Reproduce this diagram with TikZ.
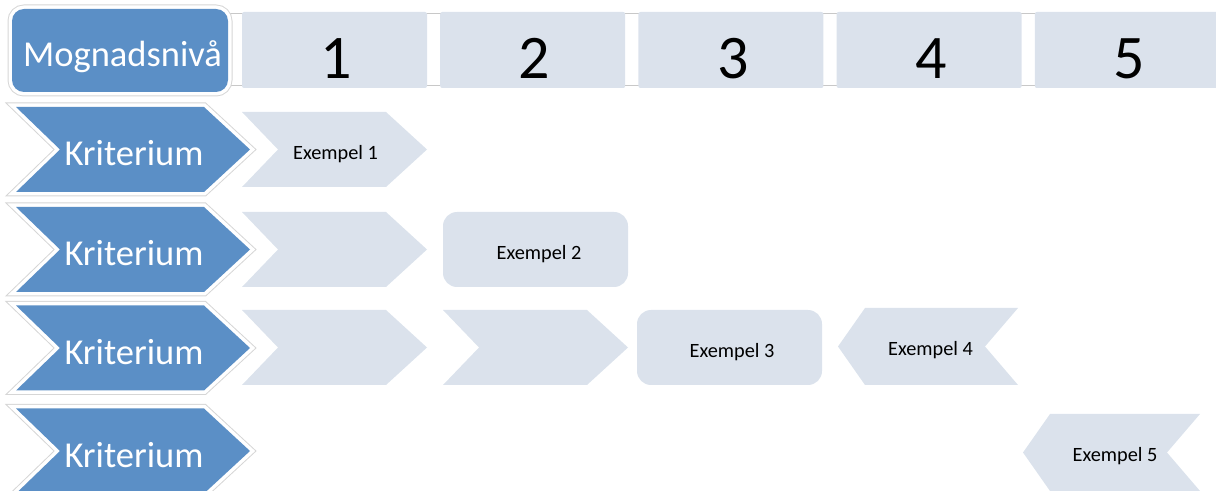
\documentclass[tikz,border=0pt]{standalone}
\usepackage{fontspec}
\setmainfont{Carlito}
\definecolor{mblue}{RGB}{91,143,198}
\definecolor{mlight}{RGB}{219,226,236}
\definecolor{halo}{RGB}{214,214,214}
\definecolor{rulegray}{RGB}{200,200,200}

\tikzset{
  blueshape/.style={fill=mblue,
    preaction={draw=halo,line width=9bp,line join=miter},
    preaction={draw=white,line width=7bp,line join=miter}},
  lightshape/.style={fill=mlight},
  headrule/.style={draw=rulegray,line width=1bp},
  levelnum/.style={anchor=base,inner sep=0pt,text=black,font=\fontsize{62bp}{62bp}\selectfont},
  bluelabel/.style={anchor=base,inner sep=0pt,text=white,font=\fontsize{36.5bp}{36.5bp}\selectfont},
  exlabel/.style={anchor=base,inner sep=0pt,text=black,font=\fontsize{20.3bp}{20.3bp}\selectfont}
}

% forward chevron: style, left x, tip x, centre y, half height, tip depth, notch depth
\newcommand\chevfwd[7]{%
  \path[#1] (#2,#4-#5) -- (#3-#6,#4-#5) -- (#3,#4) -- (#3-#6,#4+#5)
    -- (#2,#4+#5) -- (#2+#7,#4) -- cycle;}
% backward chevron: style, tip x, right x, centre y, half height, tip depth, notch depth
\newcommand\chevback[7]{%
  \path[#1] (#2,#4) -- (#2+#6,#4-#5) -- (#3,#4-#5) -- (#3-#7,#4)
    -- (#3,#4+#5) -- (#2+#6,#4+#5) -- cycle;}

\begin{document}
\begin{tikzpicture}[x=1bp,y=-1bp]
\useasboundingbox (0,0) rectangle (1216,491);
\clip (0,0) rectangle (1216,491);

% header row
\draw[headrule] (228,14) -- (1216,14);
\draw[headrule] (228,86) -- (1216,86);
\path[blueshape,rounded corners=12bp] (12,9) rectangle (228,92);
\node[bluelabel] (lvl) at (122.5,66.5) {Mognadsnivå};
\foreach \i in {1,...,5}{
  \pgfmathsetmacro\xl{242+198.2*(\i-1)}
  \path[lightshape,rounded corners=2bp] (\xl,12) rectangle (\xl+185,88);
  \node[levelnum] (n\i) at (\xl+94.5,79) {\i};
}

% criteria column
\foreach \r/\yc in {1/149.5,2/249.5,3/348,4/451}{
  \chevfwd{blueshape}{16}{250}{\yc}{42.5}{46}{44}
  \node[bluelabel] (k\r) at (134,\yc+16.5) {Kriterium};
}

% row 1
\chevfwd{lightshape}{242}{427}{149.5}{37.5}{41}{36}
\node[exlabel] (ex1) at (335.5,159.5) {Exempel 1};

% row 2
\chevfwd{lightshape}{242}{427}{249.5}{37.5}{41}{36}
\path[lightshape,rounded corners=14bp] (443,212) rectangle (628,287);
\node[exlabel] (ex2) at (539,259.5) {Exempel 2};

% row 3
\chevfwd{lightshape}{242}{427}{347.5}{37.5}{41}{36}
\chevfwd{lightshape}{443}{628}{347.5}{37.5}{41}{36}
\path[lightshape,rounded corners=14bp] (637,310) rectangle (822,385);
\node[exlabel] (ex3) at (732,358) {Exempel 3};
\chevback{lightshape}{838}{1018}{346.5}{38.5}{27}{33}
\node[exlabel] (ex4) at (930.5,356) {Exempel 4};

% row 4
\chevback{lightshape}{1023}{1200}{452.5}{38.5}{27}{33}
\node[exlabel] (ex5) at (1115,461.5) {Exempel 5};
\end{tikzpicture}
\end{document}
